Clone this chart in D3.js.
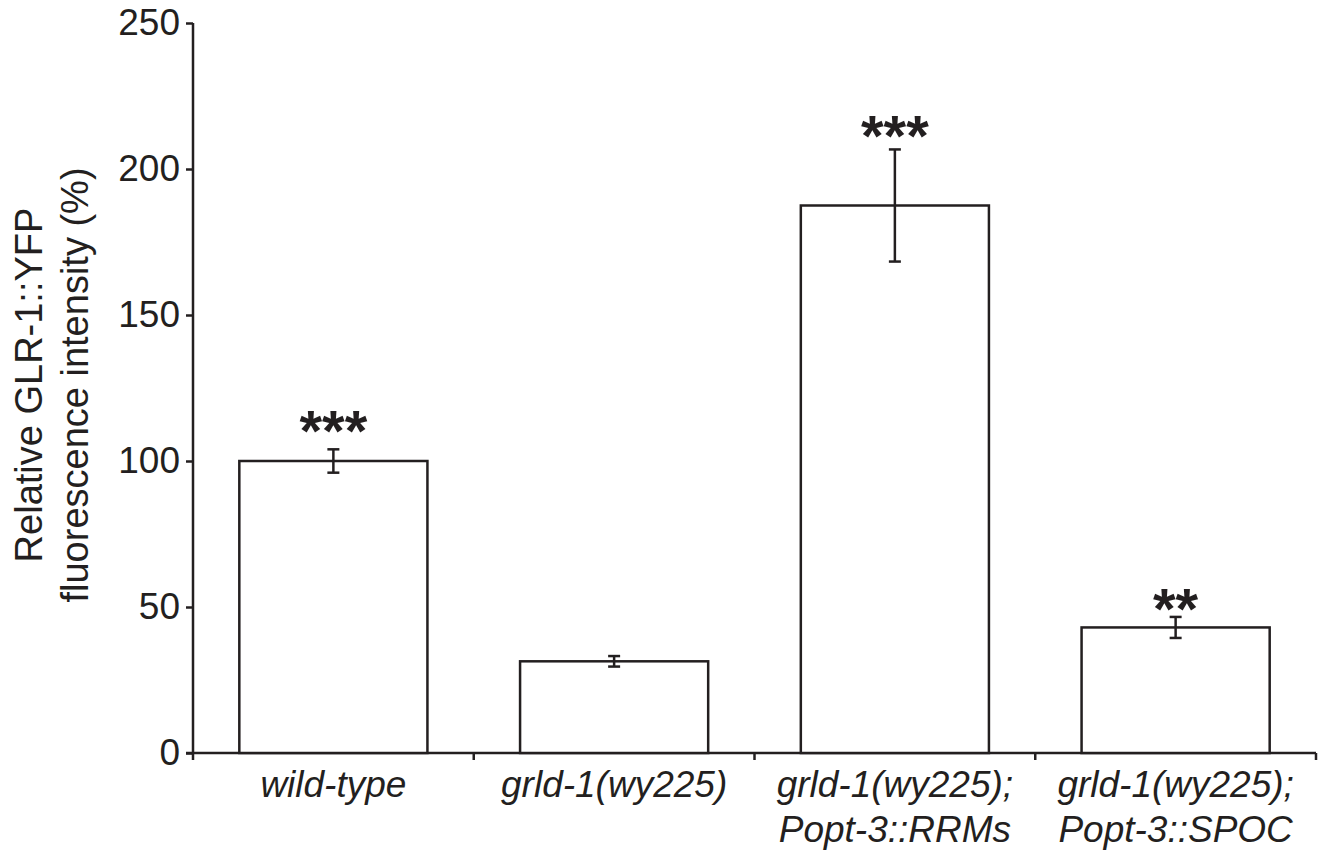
<!DOCTYPE html>
<html><head><meta charset="utf-8">
<script src="https://cdn.jsdelivr.net/npm/d3@7"></script>
<style>html,body{margin:0;padding:0;background:#fff}</style>
</head><body>
<svg id="chart" width="1328" height="850"></svg>
<script>
const categories = ["wild-type", "grld-1(wy225)", "grld-1(wy225);\nPopt-3::RRMs", "grld-1(wy225);\nPopt-3::SPOC"];
const values = [100, 31.4, 187.5, 43.0];
const errors = [4.0, 1.8, 19.2, 3.6];
const significance = ["***", "", "***", "**"];
const starLevel = [113, 0, 214, 52];
const yTicks = [0, 50, 100, 150, 200, 250];
const yTitle = ["Relative GLR-1::YFP", "fluorescence intensity (%)"];

(function () {
const ink = "#231f20";
const svg = d3.select("#chart");
const mLeft = 193, mRight = 1316, mTop = 23, mBottom = 753;

const x = d3.scaleBand().domain(categories).range([mLeft, mRight]).paddingInner(0.33).paddingOuter(0.165);
const xEdge = d3.scaleBand().domain(categories).range([mLeft, mRight]).padding(0);
const y = d3.scaleLinear().domain([0, 250]).range([mBottom, mTop]);

// y axis
const yAxis = svg.append("g").attr("transform", `translate(${mLeft},0)`)
  .call(d3.axisLeft(y).tickValues(yTicks).tickSize(7).tickPadding(6));
yAxis.select(".domain").attr("d", `M0,${mBottom}V${mTop}`).attr("stroke", ink).attr("stroke-width", 2.5);
yAxis.selectAll(".tick line").attr("stroke", ink).attr("stroke-width", 2.5);
yAxis.selectAll(".tick text").attr("fill", ink).style("font-family", "'Liberation Sans', Arial, sans-serif").style("font-size", "37px");

// x axis line with boundary ticks
const gx = svg.append("g");
gx.append("line").attr("x1", mLeft - 7).attr("x2", mRight).attr("y1", mBottom).attr("y2", mBottom)
  .attr("stroke", ink).attr("stroke-width", 2.5);
const edges = categories.map(c => xEdge(c)).concat([xEdge(categories[categories.length-1]) + xEdge.bandwidth()]);
gx.selectAll("line.tk").data(edges).join("line").attr("class", "tk")
  .attr("x1", d => d).attr("x2", d => d).attr("y1", mBottom).attr("y2", mBottom + 7)
  .attr("stroke", ink).attr("stroke-width", 2.5);

// bars
svg.append("g").selectAll("rect").data(values).join("rect")
  .attr("x", (d, i) => x(categories[i]))
  .attr("width", x.bandwidth())
  .attr("y", d => y(d))
  .attr("height", d => mBottom - y(d))
  .attr("fill", "#fff").attr("stroke", ink).attr("stroke-width", 2.5);

// error bars
const eb = svg.append("g").attr("stroke", ink).attr("stroke-width", 2.5);
values.forEach((v, i) => {
  const cx = x(categories[i]) + x.bandwidth() / 2;
  const hi = y(v + errors[i]), lo = y(v - errors[i]);
  eb.append("line").attr("x1", cx).attr("x2", cx).attr("y1", hi).attr("y2", lo);
  eb.append("line").attr("x1", cx - 6).attr("x2", cx + 6).attr("y1", hi).attr("y2", hi);
  eb.append("line").attr("x1", cx - 6).attr("x2", cx + 6).attr("y1", lo).attr("y2", lo);
});

// significance stars (centred on starLevel)
svg.append("g").selectAll("text").data(significance).join("text")
  .attr("x", (d, i) => x(categories[i]) + x.bandwidth() / 2)
  .attr("y", (d, i) => y(starLevel[i]) + 28)
  .attr("text-anchor", "middle")
  .attr("fill", ink)
  .style("font-family", "'Liberation Sans', Arial, sans-serif")
  .style("font-weight", "bold")
  .style("font-size", "58px")
  .text(d => d);

// x labels
const xl = svg.append("g");
categories.forEach(c => {
  const lines = c.split("\n");
  const cx = xEdge(c) + xEdge.bandwidth() / 2;
  const t = xl.append("text")
    .attr("x", cx)
    .attr("y", 797)
    .attr("text-anchor", "middle")
    .attr("fill", ink)
    .style("font-family", "'Liberation Sans', Arial, sans-serif")
    .style("font-style", "italic")
    .style("font-size", "37px");
  lines.forEach((l, j) => t.append("tspan").attr("x", cx).attr("dy", j === 0 ? 0 : 45).text(l));
});

// y title
const yt = svg.append("text")
  .attr("transform", `translate(42,385) rotate(-90)`)
  .attr("text-anchor", "middle")
  .attr("fill", ink)
  .style("font-family", "'Liberation Sans', Arial, sans-serif")
  .style("font-size", "38px");
yTitle.forEach((l, j) => yt.append("tspan").attr("x", 0).attr("dy", j === 0 ? 0 : 46).text(l));
})();
</script>
</body></html>
